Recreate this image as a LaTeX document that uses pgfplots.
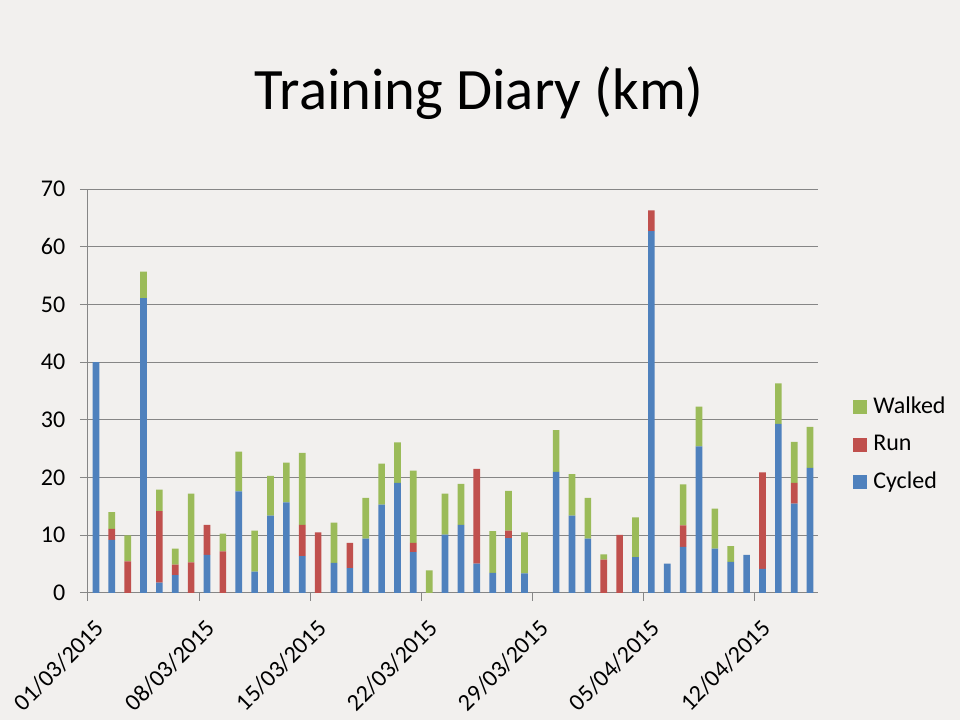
\documentclass[border=0pt]{standalone}
\usepackage{pgfplots}
\pgfplotsset{compat=1.18}
\usepackage{pgfplotstable}
\usepackage{fontspec}
\setmainfont{Carlito}
\definecolor{bgcol}{RGB}{242,240,238}
\definecolor{cyc}{RGB}{79,129,189}
\definecolor{runc}{RGB}{192,80,77}
\definecolor{walkc}{RGB}{155,187,89}
\definecolor{gridc}{RGB}{134,134,134}
\pgfplotstableread{
x cyc run walk
0.5 40.0 0 0
1.5 9.2 1.9 2.9
2.5 0 5.5 4.5
3.5 51.1 0 4.6
4.5 1.8 12.4 3.7
5.5 3.1 1.8 2.8
6.5 0 5.3 11.9
7.5 6.6 5.2 0
8.5 0 7.2 3.1
9.5 17.6 0 6.9
10.5 3.7 0 7.1
11.5 13.4 0 6.9
12.5 15.7 0 6.9
13.5 6.4 5.4 12.5
14.5 0 10.5 0
15.5 5.2 0 7.0
16.5 4.3 4.4 0
17.5 9.4 0 7.1
18.5 15.3 0 7.1
19.5 19.1 0 7.0
20.5 7.1 1.6 12.5
21.5 0 0 3.9
22.5 10.1 0 7.1
23.5 11.8 0 7.1
24.5 5.1 16.4 0
25.5 3.5 0 7.2
26.5 9.5 1.3 6.9
27.5 3.4 0 7.1
28.5 0 0 0
29.5 21.0 0 7.2
30.5 13.4 0 7.2
31.5 9.4 0 7.1
32.5 0 5.8 0.9
33.5 0 10.05 0
34.5 6.2 0 6.9
35.5 62.7 3.6 0
36.5 5.1 0 0
37.5 8.0 3.7 7.1
38.5 25.4 0 6.9
39.5 7.7 0 6.9
40.5 5.4 0 2.7
41.5 6.6 0 0
42.5 4.2 16.7 0
43.5 29.3 0 7.0
44.5 15.5 3.6 7.1
45.5 21.7 0 7.1
}\datatable
\begin{document}
\begin{tikzpicture}
\fill[bgcol] (0,0) rectangle (720pt,540pt);
\node[font=\fontsize{44}{53}\selectfont, anchor=base] at (359.5pt,458pt) {Training Diary (km)};
\begin{axis}[
  at={(66pt,95.25pt)}, anchor=south west,
  scale only axis, width=547.5pt, height=303pt,
  ybar stacked, bar width=0.42,
  xmin=0, xmax=46, ymin=0, ymax=70,
  ytick={0,10,...,70},
  xtick={0,7,14,21,28,35,42},
  xticklabels={01/03/2015,08/03/2015,15/03/2015,22/03/2015,29/03/2015,05/04/2015,12/04/2015},
  axis x line*=bottom, axis y line*=left,
  axis line style={gridc, line width=0.75pt},
  tick style={gridc, line width=0.75pt},
  major tick length=6pt, tick align=outside,
  ymajorgrids, grid style={gridc, line width=0.75pt},
  /pgf/number format/assume math mode=true,
  tick label style={font=\fontsize{18}{22}\selectfont},
  yticklabel style={xshift=-7.5pt},
  xticklabel style={rotate=45, anchor=north east, inner sep=0pt, xshift=-6pt, yshift=-12pt},
  legend style={draw=none, fill=none, at={(1.048,0.3667)}, anchor=west, inner sep=0pt,
    font=\fontsize{18}{22}\selectfont, row sep=13.3pt,
    nodes={inner sep=0pt, text height=12pt, text depth=3pt},
    /tikz/every odd column/.append style={column sep=4.5pt}},
  legend cell align=left,
  reverse legend,
  legend image code/.code={\fill[#1] (0pt,-5pt) rectangle (10.5pt,5.5pt);},
]
\addplot[fill=cyc, draw=none] table[x=x, y=cyc] {\datatable};
\addplot[fill=runc, draw=none] table[x=x, y=run] {\datatable};
\addplot[fill=walkc, draw=none] table[x=x, y=walk] {\datatable};
\legend{Cycled, Run, Walked}
\end{axis}
\pgfresetboundingbox
\path (0,0) rectangle (720pt,540pt);
\end{tikzpicture}
\end{document}
